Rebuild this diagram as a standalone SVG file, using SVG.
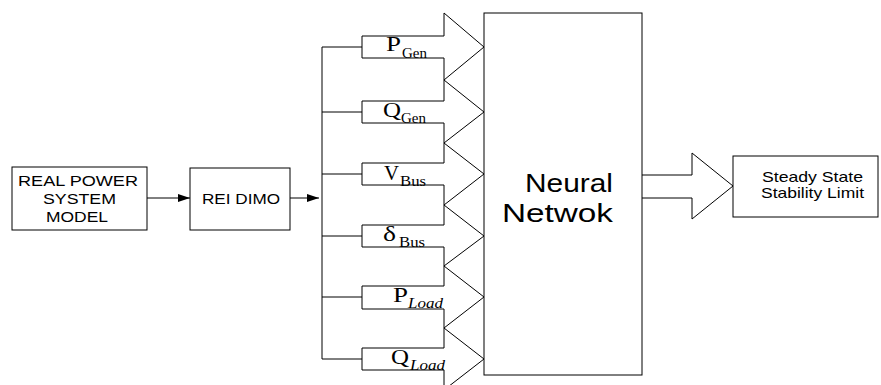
<svg xmlns="http://www.w3.org/2000/svg" width="881" height="385" viewBox="0 0 881 385">
<style>
.box{fill:#fff;stroke:#000;stroke-width:1}
.ln{fill:none;stroke:#000;stroke-width:1}
.barrow{fill:none;stroke:#000;stroke-width:1;stroke-linejoin:miter}
.sans{font-family:"Liberation Sans",Arial,sans-serif;fill:#000}
.serif{font-family:"Liberation Serif","Times New Roman",serif;fill:#000}
.main{font-size:22px}
.sub{font-size:15px}
</style>
<defs>
<marker id="ah" viewBox="0 0 12 8" refX="12" refY="4" markerWidth="12" markerHeight="8" markerUnits="userSpaceOnUse" orient="auto">
<path d="M0,0 L12,4 L0,8 Z" fill="#000"/>
</marker>
</defs>
<rect width="881" height="385" fill="#fff"/>

<g id="connectors">
<line class="ln" x1="147" y1="198" x2="190" y2="198" marker-end="url(#ah)"/>
<line class="ln" x1="290" y1="198" x2="319" y2="198" marker-end="url(#ah)"/>
<line class="ln" x1="322" y1="47" x2="322" y2="359"/>
<line class="ln" x1="322" y1="47" x2="362" y2="47"/>
<line class="ln" x1="322" y1="112" x2="362" y2="112"/>
<line class="ln" x1="322" y1="174" x2="362" y2="174"/>
<line class="ln" x1="322" y1="236" x2="362" y2="236"/>
<line class="ln" x1="322" y1="297" x2="362" y2="297"/>
<line class="ln" x1="322" y1="359" x2="362" y2="359"/>
</g>

<g id="real-power-system-model">
<rect class="box" x="12" y="167" width="135" height="63"/>
<text class="sans" font-size="14.5" x="78" y="186" text-anchor="middle" textLength="120" lengthAdjust="spacingAndGlyphs">REAL POWER</text>
<text class="sans" font-size="14.5" x="79.5" y="203.5" text-anchor="middle" textLength="73" lengthAdjust="spacingAndGlyphs">SYSTEM</text>
<text class="sans" font-size="14.5" x="77" y="222" text-anchor="middle" textLength="62" lengthAdjust="spacingAndGlyphs">MODEL</text>
</g>

<g id="rei-dimo">
<rect class="box" x="190" y="168" width="100" height="62"/>
<text class="sans" font-size="15" x="241" y="203.5" text-anchor="middle" textLength="78" lengthAdjust="spacingAndGlyphs">REI DIMO</text>
</g>

<g id="p-gen">
<path class="barrow" d="M362,36 H444 V13 L484,47 L444,80 V58 H362 Z"/>
<text class="serif main" x="386" y="51" textLength="15" lengthAdjust="spacingAndGlyphs">P</text>
<text class="serif sub" x="402" y="57.5" textLength="25" lengthAdjust="spacingAndGlyphs">Gen</text>
</g>

<g id="q-gen">
<path class="barrow" d="M362,101 H444 V80 L484,112 L444,143 V123 H362 Z"/>
<text class="serif main" x="383" y="117" textLength="18" lengthAdjust="spacingAndGlyphs">Q</text>
<text class="serif sub" x="401" y="123" textLength="25" lengthAdjust="spacingAndGlyphs">Gen</text>
</g>

<g id="v-bus">
<path class="barrow" d="M362,163 H444 V143 L484,174 L444,205 V185 H362 Z"/>
<text class="serif main" x="384" y="180" textLength="15" lengthAdjust="spacingAndGlyphs">V</text>
<text class="serif sub" x="400" y="185.5" textLength="26" lengthAdjust="spacingAndGlyphs">Bus</text>
</g>

<g id="delta-bus">
<path class="barrow" d="M362,225 H444 V205 L484,236 L444,266 V247 H362 Z"/>
<text class="serif main" x="383" y="241" textLength="13" lengthAdjust="spacingAndGlyphs">δ</text>
<text class="serif sub" x="399" y="247" textLength="26" lengthAdjust="spacingAndGlyphs">Bus</text>
</g>

<g id="p-load">
<path class="barrow" d="M362,286 H444 V266 L484,297 L444,328 V309 H362 Z"/>
<text class="serif main" x="393" y="302" textLength="15" lengthAdjust="spacingAndGlyphs">P</text>
<text class="serif sub" x="408" y="308" font-style="italic" textLength="35" lengthAdjust="spacingAndGlyphs">Load</text>
</g>

<g id="q-load">
<path class="barrow" d="M362,348 H444 V328 L484,359 L444,390 V370 H362 Z"/>
<text class="serif main" x="391" y="364" textLength="18" lengthAdjust="spacingAndGlyphs">Q</text>
<text class="serif sub" x="410" y="370" font-style="italic" textLength="35" lengthAdjust="spacingAndGlyphs">Load</text>
</g>

<g id="neural-network">
<rect class="box" x="484" y="13" width="158" height="362"/>
<text class="sans" font-size="26" x="525" y="192" textLength="88" lengthAdjust="spacingAndGlyphs">Neural</text>
<text class="sans" font-size="26" x="502" y="222" textLength="111" lengthAdjust="spacingAndGlyphs">Netwok</text>
</g>

<g id="output-arrow">
<path class="barrow" d="M642,175 H692 V153 L733,186 L692,219 V198 H642"/>
</g>

<g id="steady-state-stability-limit">
<rect class="box" x="733" y="156" width="145" height="61"/>
<text class="sans" font-size="14.5" x="812.5" y="182" text-anchor="middle" textLength="101" lengthAdjust="spacingAndGlyphs">Steady State</text>
<text class="sans" font-size="14.5" x="812.5" y="197.5" text-anchor="middle" textLength="103" lengthAdjust="spacingAndGlyphs">Stability Limit</text>
</g>
</svg>
